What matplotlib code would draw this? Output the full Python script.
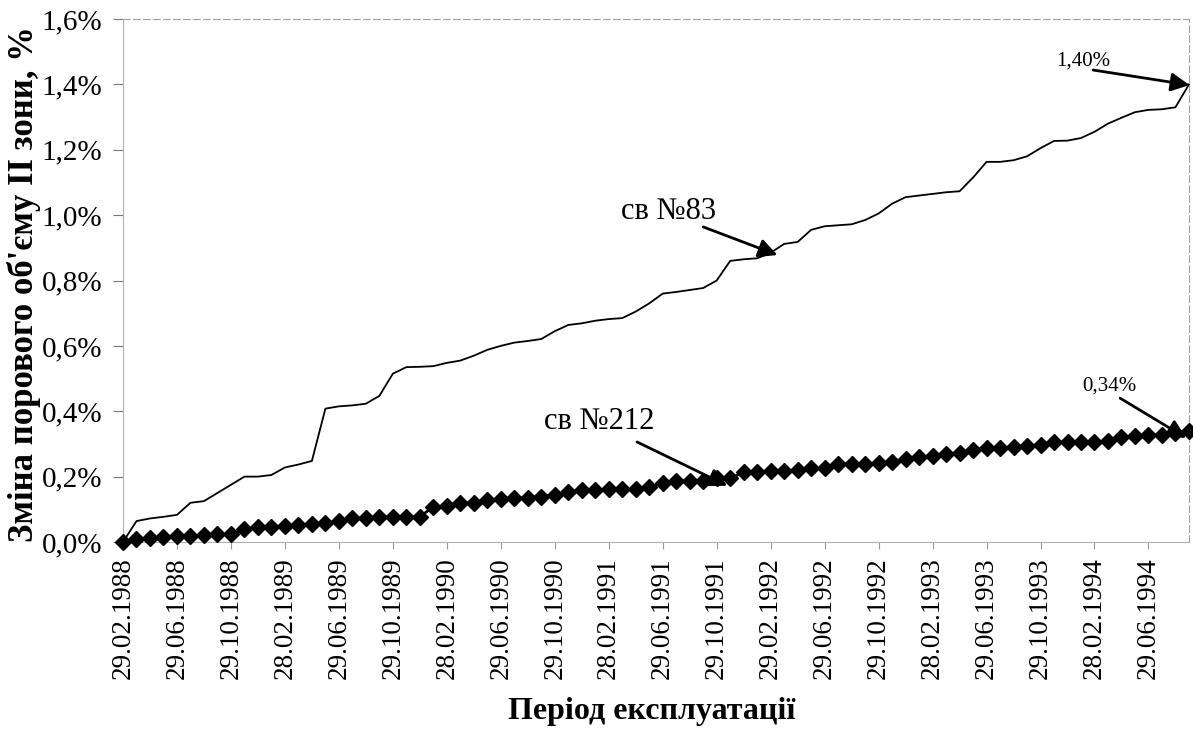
import matplotlib
matplotlib.use("Agg")
import matplotlib.pyplot as plt
from matplotlib.ticker import FixedLocator, FuncFormatter
import numpy as np

plt.rcParams['font.family'] = ['Liberation Serif', 'DejaVu Serif']

# Monthly readings, 29.02.1988 ... 09.1994 (80 months)
well83 = [0.000, 0.064, 0.072, 0.077, 0.083, 0.120, 0.125, 0.150, 0.175, 0.200,
          0.200, 0.205, 0.228, 0.237, 0.248, 0.408, 0.415, 0.418, 0.423, 0.447,
          0.515, 0.535, 0.536, 0.538, 0.548, 0.555, 0.570, 0.588, 0.600, 0.610,
          0.615, 0.621, 0.645, 0.664, 0.669, 0.677, 0.682, 0.685, 0.705, 0.730,
          0.760, 0.765, 0.771, 0.777, 0.800, 0.860, 0.865, 0.868, 0.885, 0.912,
          0.918, 0.955, 0.966, 0.969, 0.972, 0.985, 1.005, 1.035, 1.055, 1.060,
          1.065, 1.070, 1.073, 1.115, 1.163, 1.163, 1.168, 1.180, 1.205, 1.227,
          1.228, 1.236, 1.255, 1.280, 1.298, 1.315, 1.322, 1.324, 1.330, 1.400]

well212 = [0.000, 0.008, 0.013, 0.014, 0.018, 0.018, 0.021, 0.023, 0.023, 0.039,
           0.045, 0.047, 0.049, 0.051, 0.054, 0.057, 0.064, 0.072, 0.074, 0.077,
           0.077, 0.077, 0.077, 0.108, 0.110, 0.118, 0.120, 0.128, 0.131, 0.134,
           0.136, 0.139, 0.144, 0.152, 0.159, 0.159, 0.161, 0.161, 0.161, 0.167,
           0.181, 0.187, 0.187, 0.187, 0.195, 0.195, 0.213, 0.215, 0.217, 0.217,
           0.220, 0.225, 0.225, 0.238, 0.238, 0.238, 0.241, 0.245, 0.254, 0.261,
           0.263, 0.269, 0.273, 0.281, 0.287, 0.289, 0.290, 0.294, 0.297, 0.305,
           0.307, 0.307, 0.307, 0.309, 0.322, 0.324, 0.327, 0.327, 0.334, 0.340]

date_labels = ["29.02.1988", "29.06.1988", "29.10.1988", "28.02.1989", "29.06.1989",
               "29.10.1989", "28.02.1990", "29.06.1990", "29.10.1990", "28.02.1991",
               "29.06.1991", "29.10.1991", "29.02.1992", "29.06.1992", "29.10.1992",
               "28.02.1993", "29.06.1993", "29.10.1993", "28.02.1994", "29.06.1994"]
y_ticks = [0.0, 0.2, 0.4, 0.6, 0.8, 1.0, 1.2, 1.4, 1.6]

x = np.arange(len(well83))

fig = plt.figure(figsize=(11.93, 7.35), dpi=100)
ax = fig.add_axes([0.1031, 0.2626, 0.8935, 0.7115])

ax.plot(x, well83, color='black', lw=1.3, clip_on=False, zorder=3)
ax.plot(x, well212, color='black', lw=2, marker='D', markersize=8.5,
        clip_on=False, zorder=3)

ax.set_xlim(0, len(x) - 1)
ax.set_ylim(0, 1.6)

ax.xaxis.set_major_locator(FixedLocator(np.arange(0, len(x), 4)))
ax.set_xticklabels(date_labels, rotation=90, fontsize=19.5)
ax.yaxis.set_major_locator(FixedLocator(y_ticks))
ax.yaxis.set_major_formatter(FuncFormatter(lambda v, p: ("%.1f%%" % v).replace('.', ',')))
ax.tick_params(axis='y', labelsize=21, length=7, color='#777777', pad=8)
ax.tick_params(axis='x', length=5, color='#999999', pad=6)

for side in ['top', 'right']:
    ax.spines[side].set_color('#a0a0a0')
    ax.spines[side].set_linestyle((0, (6, 3)))
    ax.spines[side].set_linewidth(0.8)
for side in ['left', 'bottom']:
    ax.spines[side].set_color('#b0b0b0')
    ax.spines[side].set_linewidth(0.8)

fig.text(24 / 1193, 1 - 284 / 735, "Зміна порового об'єму ІІ зони, %", fontsize=25,
         fontweight='bold', rotation=90, ha='center', va='center')
fig.text(652 / 1193, 1 - 712 / 735, "Період експлуатації", fontsize=23,
         fontweight='bold', ha='center', va='center')

arrow = dict(arrowstyle='-|>', color='black', lw=2, mutation_scale=28, shrinkA=0, shrinkB=0)

ax.text(40.4, 1.01, "св №83", fontsize=22, ha='center', va='center')
ax.annotate("", xy=(48.5, 0.878), xytext=(43.0, 0.964), arrowprops=arrow)

ax.text(35.3, 0.37, "св №212", fontsize=22, ha='center', va='center')
ax.annotate("", xy=(44.8, 0.172), xytext=(38.1, 0.306), arrowprops=arrow)

ax.text(71.2, 1.471, "1,40%", fontsize=15, ha='center', va='center')
ax.annotate("", xy=(79.05, 1.398), xytext=(71.9, 1.444), arrowprops=arrow,
            annotation_clip=False)

ax.text(73.1, 0.477, "0,34%", fontsize=15, ha='center', va='center')
ax.annotate("", xy=(78.8, 0.318), xytext=(73.9, 0.44), arrowprops=arrow,
            annotation_clip=False)

fig.savefig("out.png", dpi=100)
